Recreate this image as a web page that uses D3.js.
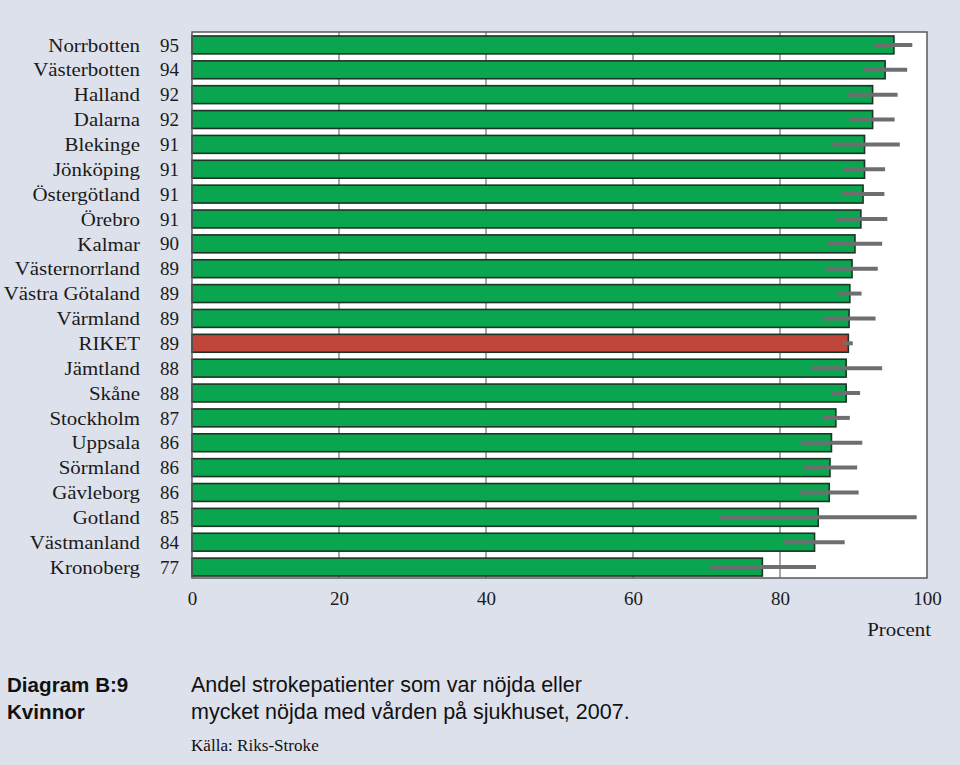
<!DOCTYPE html>
<html><head><meta charset="utf-8">
<script src="https://cdn.jsdelivr.net/npm/d3@7"></script>
<style>
html,body{margin:0;padding:0;background:#dde1ec;}
svg{display:block;}
</style></head>
<body>
<script>
const regions = ["Norrbotten","Västerbotten","Halland","Dalarna","Blekinge","Jönköping","Östergötland","Örebro","Kalmar","Västernorrland","Västra Götaland","Värmland","RIKET","Jämtland","Skåne","Stockholm","Uppsala","Sörmland","Gävleborg","Gotland","Västmanland","Kronoberg"];
const valueLabels = ["95","94","92","92","91","91","91","91","90","89","89","89","89","88","88","87","86","86","86","85","84","77"];
const values = [95.5,94.3,92.6,92.6,91.5,91.5,91.3,91.0,90.2,89.8,89.5,89.4,89.3,89.0,89.0,87.6,87.0,86.8,86.7,85.2,84.7,77.6];
const lower  = [92.8,91.4,89.2,89.4,86.9,88.6,88.3,87.5,86.4,86.2,87.8,85.8,88.6,84.2,87.0,85.8,82.8,83.2,82.6,71.8,80.5,70.4];
const upper  = [98.0,97.3,96.0,95.6,96.3,94.3,94.2,94.6,93.9,93.3,91.1,93.0,89.9,93.9,90.9,89.5,91.2,90.5,90.7,98.6,88.8,84.9];
const xTicks = [0,20,40,60,80,100];
const highlight = "RIKET";

const W=960,H=765;
const L=192,R=927,T=32,B=578;
const svg=d3.select("body").append("svg").attr("width",W).attr("height",H);
svg.append("rect").attr("width",W).attr("height",H).attr("fill","#dde1ec");

const x=d3.scaleLinear().domain([0,100]).range([L,R]);
const y=d3.scaleBand().domain(regions).range([32.5,579.5]).paddingInner(0.28).paddingOuter(0.14);

svg.append("rect").attr("x",L).attr("y",T).attr("width",R-L).attr("height",B-T).attr("fill","#ffffff");

// gridlines
svg.append("g").selectAll("line").data(xTicks.filter(d=>d>0&&d<100)).join("line")
  .attr("x1",d=>x(d)).attr("x2",d=>x(d)).attr("y1",T).attr("y2",B)
  .attr("stroke","#8a8a8a").attr("stroke-width",1.5);

const data=regions.map((r,i)=>({r,v:values[i],lo:lower[i],hi:upper[i],lab:valueLabels[i]}));

svg.append("g").selectAll("rect").data(data).join("rect")
  .attr("x",x(0)).attr("y",d=>y(d.r)).attr("width",d=>x(d.v)-x(0)).attr("height",y.bandwidth())
  .attr("fill",d=>d.r===highlight?"#c0453b":"#0aa64f")
  .attr("stroke","#1d3326").attr("stroke-width",1.6);

svg.append("g").selectAll("line").data(data).join("line")
  .attr("x1",d=>x(d.lo)).attr("x2",d=>x(d.hi))
  .attr("y1",d=>y(d.r)+y.bandwidth()/2).attr("y2",d=>y(d.r)+y.bandwidth()/2)
  .attr("stroke","#6e6e70").attr("stroke-width",4);

// frame
svg.append("rect").attr("x",L).attr("y",T).attr("width",R-L).attr("height",B-T)
  .attr("fill","none").attr("stroke","#5a5a5e").attr("stroke-width",1.5);

const serif="'Liberation Serif','DejaVu Serif',serif";
const g=svg.append("g").attr("font-family",serif).attr("font-size",19).attr("fill","#1a1a1a");
g.selectAll("text.name").data(data).join("text").attr("class","name")
  .attr("transform",d=>`translate(140,${y(d.r)+y.bandwidth()/2}) scale(1.1,1)`).attr("dy","0.35em")
  .attr("text-anchor","end").text(d=>d.r);
g.selectAll("text.val").data(data).join("text").attr("class","val")
  .attr("x",160).attr("y",d=>y(d.r)+y.bandwidth()/2).attr("dy","0.35em")
  .attr("text-anchor","start").text(d=>d.lab);

// x axis
const ax=svg.append("g").attr("transform",`translate(0,${B})`)
  .call(d3.axisBottom(x).tickValues(xTicks).tickSize(0).tickPadding(14).tickFormat(d3.format("d")));
ax.select(".domain").remove();
ax.selectAll("text").attr("font-family",serif).attr("font-size",19).attr("fill","#1a1a1a");

svg.append("text").attr("transform","translate(931,636) scale(1.1,1)").attr("text-anchor","end")
  .attr("font-family",serif).attr("font-size",19).attr("fill","#1a1a1a").text("Procent");

const sans="'Liberation Sans',Arial,sans-serif";
const cap=svg.append("g").attr("font-family",sans).attr("fill","#111");
cap.append("text").attr("x",7).attr("y",692).attr("font-size",20.6).attr("font-weight","bold").text("Diagram B:9");
cap.append("text").attr("x",7).attr("y",719).attr("font-size",20.6).attr("font-weight","bold").text("Kvinnor");
cap.append("text").attr("x",191).attr("y",692).attr("font-size",21.5).text("Andel strokepatienter som var nöjda eller");
cap.append("text").attr("x",191).attr("y",719).attr("font-size",21.5).text("mycket nöjda med vården på sjukhuset, 2007.");
svg.append("text").attr("transform","translate(191,751) scale(1.07,1)").attr("font-family",serif).attr("font-size",16).attr("fill","#111").text("Källa: Riks-Stroke");
</script>
</body></html>
